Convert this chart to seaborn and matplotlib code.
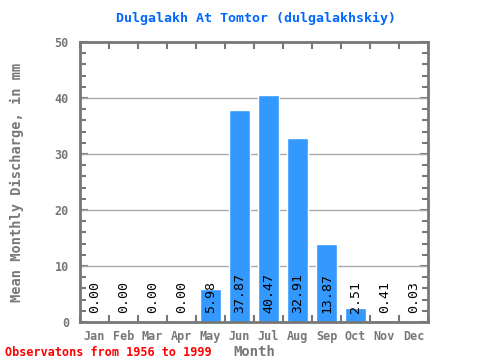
import matplotlib
matplotlib.use("Agg")
import matplotlib.pyplot as plt
import seaborn as sns
import pandas as pd
from matplotlib.ticker import MultipleLocator, FixedLocator

# --- DATA ---
months = ["Jan", "Feb", "Mar", "Apr", "May", "Jun", "Jul", "Aug", "Sep", "Oct", "Nov", "Dec"]
discharge = [0.00, 0.00, 0.00, 0.00, 5.98, 37.87, 40.47, 32.91, 13.87, 2.51, 0.41, 0.03]
value_labels = ["0.00", "0.00", "0.00", "0.00", "5.98", "37.87", "40.47", "32.91", "13.87", "2.51", "0.41", "0.03"]

TITLE = "Dulgalakh At Tomtor (dulgalakhskiy)"
FOOTNOTE = "Observatons from 1956 to 1999"

sns.set_style("white")
plt.rcParams['font.family'] = ['DejaVu Sans Mono']

df = pd.DataFrame({"Month": months, "Discharge": discharge})

fig = plt.figure(figsize=(4.8, 3.6), dpi=100)
ax = fig.add_axes([80 / 480, 38 / 360, 348 / 480, 280 / 360])

sns.barplot(data=df, x="Month", y="Discharge", color="#3399FF", saturation=1,
            width=0.72, ax=ax, zorder=2)

ax.set_ylim(0, 50)
ax.set_xlim(-0.5, 11.5)

# grid
for yv in [10, 20, 30, 40]:
    ax.axhline(yv, color="#AAAAAA", lw=1, zorder=1)

# value labels
for i, lab in enumerate(value_labels):
    ax.text(i, 1.6, lab, rotation=90, ha="center", va="bottom",
            fontsize=9.5, color="black", zorder=3)

# frame
grey = "#777777"
for sp in ax.spines.values():
    sp.set_color(grey)
    sp.set_linewidth(2)

ax.yaxis.set_major_locator(MultipleLocator(10))
ax.yaxis.set_minor_locator(MultipleLocator(2))
ax.xaxis.set_major_locator(FixedLocator(range(12)))
ax.xaxis.set_minor_locator(FixedLocator([x - 0.5 for x in range(13)]))
ax.tick_params(axis="y", which="both", direction="in", left=True, right=True,
               color=grey, width=1.5, labelsize=8.5, labelcolor=grey, pad=8)
ax.tick_params(axis="y", which="major", length=6)
ax.tick_params(axis="y", which="minor", length=4)
ax.tick_params(axis="x", which="major", length=0, labelsize=8.5, labelcolor=grey, pad=6)
ax.tick_params(axis="x", which="minor", direction="in", top=True, bottom=True,
               color=grey, width=1.5, length=5)
for t in ax.get_xticklabels() + ax.get_yticklabels():
    t.set_fontweight("bold")

ax.set_xlabel("Month", fontsize=10, color=grey, fontweight="bold", labelpad=1)
ax.set_ylabel("Mean Monthly Discharge, in mm", fontsize=9.8, color=grey,
              fontweight="bold", labelpad=22)

fig.text(256 / 480, 1 - 18 / 360, TITLE, ha="center", va="center",
         fontsize=9.5, color="#0066FF", fontweight="bold")
fig.text(5 / 480, 1 - 352 / 360, FOOTNOTE, ha="left", va="center",
         fontsize=8.5, color="red", fontweight="bold")

fig.savefig("out.png", dpi=100)
